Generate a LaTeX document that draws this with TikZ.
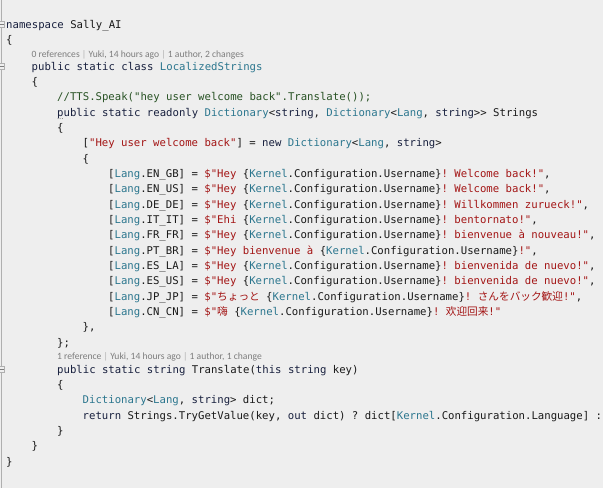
\documentclass[tikz,border=0pt]{standalone}
\usepackage{fontspec}
\setmonofont{DejaVu Sans Mono}
\newfontfamily\lensfont{Carlito}
\newfontfamily\cjkjp{Noto Sans CJK JP}
\newfontfamily\cjksc{Noto Sans CJK SC}
\definecolor{bgcol}{RGB}{238,238,238}
\definecolor{txtcol}{RGB}{25,25,25}
\definecolor{kwcol}{RGB}{24,32,62}
\definecolor{tycol}{RGB}{43,118,142}
\definecolor{stcol}{RGB}{163,21,21}
\definecolor{cmcol}{RGB}{40,82,36}
\definecolor{lenscol}{RGB}{125,125,125}
\definecolor{guttercol}{RGB}{175,175,175}
\newcommand{\kw}[1]{\textcolor{kwcol}{#1}}
\newcommand{\ty}[1]{\textcolor{tycol}{#1}}
\newcommand{\strg}[1]{\textcolor{stcol}{#1}}
\newcommand{\cmt}[1]{\textcolor{cmcol}{#1}}
\newcommand{\sep}{\textcolor{guttercol}{|}}
\newcommand{\user}{\{\ty{Kernel}.Configuration.Username\}}
\tikzset{
    code/.style={anchor=base west, inner sep=0pt, text=txtcol,
        font=\ttfamily\fontsize{10.65pt}{12pt}\selectfont\frenchspacing},
    lens/.style={anchor=base west, inner sep=0pt, text=lenscol,
        font=\lensfont\fontsize{9.6pt}{11pt}\selectfont},
    fold/.style={draw=guttercol, fill=bgcol, minimum width=5pt, minimum height=6pt, inner sep=0pt}
}
\begin{document}
\begin{tikzpicture}[x=1pt, y=-1pt]
        \fill[bgcol] (0,0) rectangle (603,488);
        \useasboundingbox (0,0) rectangle (603,488);
        % margine a sinistra
        \draw[guttercol] (1.5,0) -- (1.5,488);
        % namespace e classe
        \node[code] (ns) at (6,28) {\kw{namespace} Sally\_AI};
        \node[code] (nsopen) at (6,43.3) {\{};
        \node[lens] (lensa) at (31.5,57) {0 references \sep{} Yuki, 14 hours ago \sep{} 1 author, 2 changes};
        \node[code] (cls) at (31.5,70) {\kw{public static class} \ty{LocalizedStrings}};
        \node[code] (clsopen) at (31.5,85.3) {\{};
        \node[code] (tts) at (57,100.7) {\cmt{//TTS.Speak("hey user welcome back".Translate());}};
        \node[code] (strs) at (57,116) {\kw{public static readonly} \ty{Dictionary}<\kw{string}, \ty{Dictionary}<\ty{Lang}, \kw{string}>> Strings};
        \node[code] (strsopen) at (57,131.3) {\{};
        \node[code] (key) at (82.5,146.7) {[\strg{"Hey user welcome back"}] = \kw{new} \ty{Dictionary}<\ty{Lang}, \kw{string}>};
        \node[code] (keyopen) at (82.5,162) {\{};
        % traduzioni, una per riga
        \node[code] (engb) at (108,177.5) {[\ty{Lang}.EN\_GB] = \strg{\$"Hey }\user\strg{! Welcome back!"},};
        \node[code] (enus) at (108,192.8) {[\ty{Lang}.EN\_US] = \strg{\$"Hey }\user\strg{! Welcome back!"},};
        \node[code] (dede) at (108,208.1) {[\ty{Lang}.DE\_DE] = \strg{\$"Hey }\user\strg{! Willkommen zurueck!"},};
        \node[code] (itit) at (108,223.5) {[\ty{Lang}.IT\_IT] = \strg{\$"Ehi }\user\strg{! bentornato!"},};
        \node[code] (frfr) at (108,238.8) {[\ty{Lang}.FR\_FR] = \strg{\$"Hey }\user\strg{! bienvenue à nouveau!"},};
        \node[code] (ptbr) at (108,254.1) {[\ty{Lang}.PT\_BR] = \strg{\$"Hey bienvenue à }\user\strg{!"},};
        \node[code] (esla) at (108,269.5) {[\ty{Lang}.ES\_LA] = \strg{\$"Hey }\user\strg{! bienvenida de nuevo!"},};
        \node[code] (esus) at (108,284.8) {[\ty{Lang}.ES\_US] = \strg{\$"Hey }\user\strg{! bienvenida de nuevo!"},};
        \node[code] (jpjp) at (108,300.1) {[\ty{Lang}.JP\_JP] = \strg{\$"{\cjkjp ちょっと} }\user\strg{! {\cjkjp さんをバック歓迎}!"},};
        \node[code] (cncn) at (108,315.5) {[\ty{Lang}.CN\_CN] = \strg{\$"{\cjksc 嗨} }\user\strg{! {\cjksc 欢迎回来}!"}};
        \node[code] (keyclose) at (82.5,330.8) {\},};
        \node[code] (strsclose) at (57,346.1) {\};};
        % metodo Translate
        \node[lens] (lensb) at (57,359) {1 reference \sep{} Yuki, 14 hours ago \sep{} 1 author, 1 change};
        \node[code] (tr) at (57,373) {\kw{public static string} Translate(\kw{this string} key)};
        \node[code] (tropen) at (57,388.3) {\{};
        \node[code] (dict) at (82.5,403.7) {\ty{Dictionary}<\ty{Lang}, \kw{string}> dict;};
        \node[code] (ret) at (82.5,419) {\kw{return} Strings.TryGetValue(key, \kw{out} dict) ? dict[\ty{Kernel}.Configuration.Language] :};
        \node[code] (trclose) at (57,434.3) {\}};
        \node[code] (clsclose) at (31.5,449.7) {\}};
        \node[code] (nsclose) at (6,465) {\}};
        % segni di piegatura
        \node[fold] (fns) at (2,24.5) {};
        \node[fold] (fcls) at (2,66.5) {};
        \node[fold] (ftr) at (2,369.5) {};
        \foreach \f in {fns,fcls,ftr}
            \draw[lenscol] ([xshift=1pt]\f.west) -- ([xshift=-1pt]\f.east);
        \foreach \d in {0,2.2,4.4}
            \fill[lenscol] (58+\d,118.5) circle (0.5);
    \end{tikzpicture}
\end{document}
